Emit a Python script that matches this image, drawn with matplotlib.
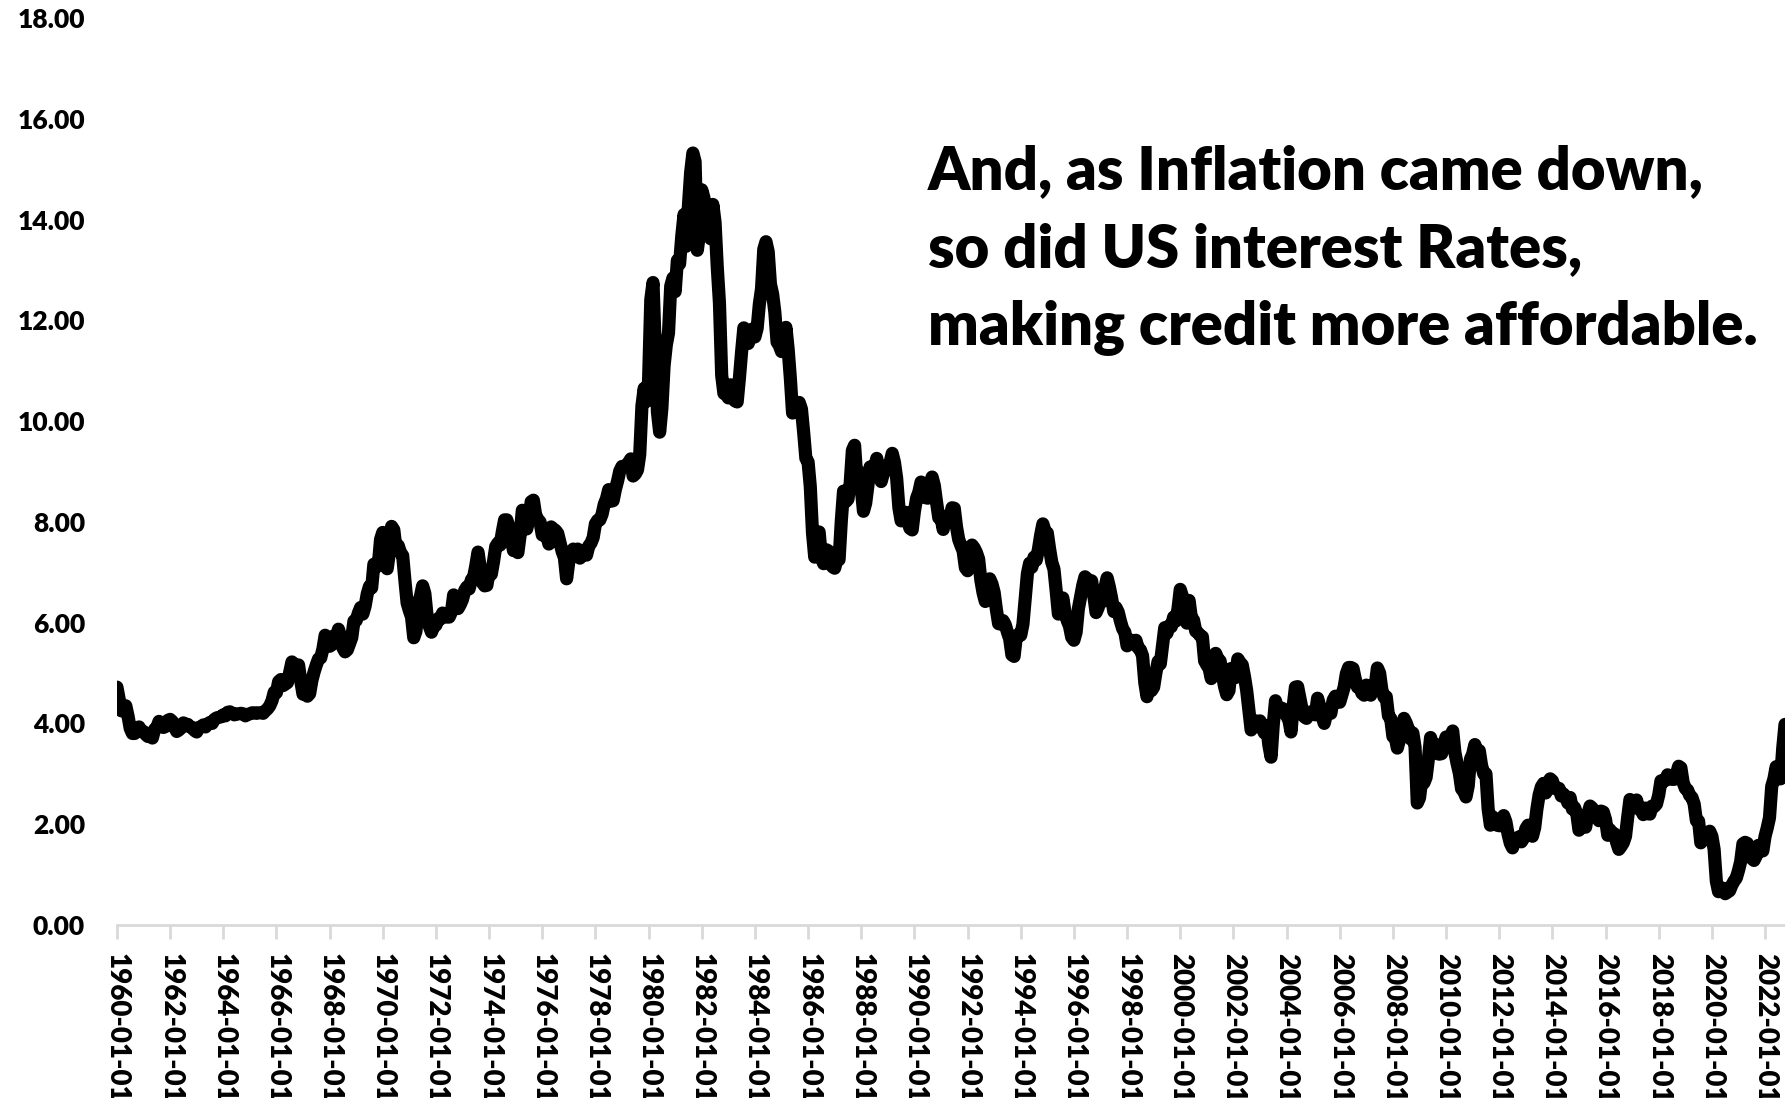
#!/usr/bin/env python3
"""
US 10-year Treasury yield, monthly averages 1960-01 .. 2022-10
"""

import matplotlib.pyplot as plt
import numpy as np
import pandas as pd

# Monthly 10y yields (%), one row per year
yields_1960s = [
    4.72, 4.49, 4.25, 4.28, 4.35, 4.15, 3.90, 3.80, 3.80, 3.89, 3.93, 3.84,
    3.84, 3.78, 3.74, 3.78, 3.71, 3.88, 3.92, 4.04, 3.98, 3.92, 3.94, 4.06,
    4.08, 4.04, 3.93, 3.84, 3.87, 3.91, 4.01, 3.98, 3.98, 3.93, 3.92, 3.86,
    3.83, 3.92, 3.93, 3.97, 3.93, 3.99, 4.02, 4.00, 4.08, 4.11, 4.12, 4.13,
    4.17, 4.15, 4.22, 4.23, 4.20, 4.17, 4.19, 4.19, 4.20, 4.19, 4.15, 4.18,
    4.19, 4.21, 4.21, 4.20, 4.21, 4.21, 4.20, 4.25, 4.29, 4.35, 4.45, 4.62,
    4.61, 4.83, 4.87, 4.75, 4.78, 4.81, 5.02, 5.22, 5.18, 5.01, 5.16, 4.84,
    4.58, 4.63, 4.54, 4.59, 4.85, 5.02, 5.16, 5.28, 5.30, 5.48, 5.75, 5.70,
    5.53, 5.56, 5.74, 5.64, 5.87, 5.72, 5.50, 5.42, 5.46, 5.58, 5.70, 6.03,
    6.04, 6.19, 6.30, 6.17, 6.32, 6.57, 6.72, 6.69, 7.16, 7.10, 7.14, 7.65,
]
yields_1970s = [
    7.79, 7.24, 7.07, 7.39, 7.91, 7.84, 7.46, 7.53, 7.39, 7.33, 6.84, 6.39,
    6.24, 6.11, 5.70, 5.83, 6.39, 6.52, 6.73, 6.58, 6.14, 5.93, 5.81, 5.93,
    5.95, 6.08, 6.07, 6.19, 6.13, 6.11, 6.11, 6.21, 6.55, 6.48, 6.28, 6.36,
    6.46, 6.64, 6.71, 6.67, 6.85, 6.90, 7.13, 7.40, 7.09, 6.79, 6.73, 6.74,
    6.99, 6.96, 7.21, 7.51, 7.58, 7.54, 7.81, 8.04, 8.04, 7.90, 7.68, 7.43,
    7.50, 7.39, 7.73, 8.23, 8.06, 7.86, 8.06, 8.40, 8.43, 8.14, 8.05, 8.00,
    7.74, 7.79, 7.73, 7.56, 7.90, 7.86, 7.83, 7.77, 7.59, 7.41, 7.29, 6.87,
    7.21, 7.39, 7.46, 7.37, 7.46, 7.28, 7.33, 7.40, 7.34, 7.52, 7.58, 7.69,
    7.96, 8.03, 8.04, 8.15, 8.35, 8.46, 8.64, 8.41, 8.42, 8.64, 8.81, 9.01,
    9.10, 9.10, 9.12, 9.18, 9.25, 8.91, 8.95, 9.03, 9.33, 10.30, 10.65, 10.39,
]
yields_1980s = [
    10.80, 12.41, 12.75, 11.47, 10.18, 9.78, 10.25, 11.10, 11.51, 11.75, 12.68, 12.84,
    12.57, 13.19, 13.12, 13.68, 14.10, 13.47, 14.28, 14.94, 15.32, 15.15, 13.39, 13.72,
    14.59, 14.43, 13.86, 13.87, 13.62, 14.30, 13.95, 13.06, 12.34, 10.91, 10.55, 10.54,
    10.46, 10.72, 10.51, 10.40, 10.38, 10.85, 11.38, 11.85, 11.65, 11.54, 11.69, 11.83,
    11.67, 11.84, 12.32, 12.63, 13.41, 13.56, 13.36, 12.72, 12.52, 12.16, 11.57, 11.50,
    11.38, 11.51, 11.86, 11.43, 10.85, 10.16, 10.31, 10.33, 10.37, 10.24, 9.78, 9.26,
    9.19, 8.70, 7.78, 7.30, 7.71, 7.80, 7.30, 7.17, 7.45, 7.43, 7.25, 7.11,
    7.08, 7.25, 7.25, 8.02, 8.61, 8.40, 8.45, 8.76, 9.42, 9.52, 8.86, 8.99,
    8.67, 8.21, 8.37, 8.72, 9.09, 8.92, 9.06, 9.26, 8.98, 8.80, 8.96, 9.11,
    9.09, 9.17, 9.36, 9.18, 8.86, 8.28, 8.02, 8.11, 8.19, 8.01, 7.87, 7.84,
]
yields_1990s = [
    8.21, 8.47, 8.59, 8.79, 8.76, 8.48, 8.47, 8.75, 8.89, 8.72, 8.39, 8.08,
    8.09, 7.85, 8.11, 8.04, 8.07, 8.28, 8.27, 7.90, 7.65, 7.53, 7.42, 7.09,
    7.03, 7.34, 7.54, 7.48, 7.39, 7.26, 6.84, 6.59, 6.42, 6.59, 6.87, 6.77,
    6.60, 6.26, 5.98, 5.97, 6.04, 5.96, 5.81, 5.68, 5.36, 5.33, 5.72, 5.77,
    5.75, 5.97, 6.48, 6.97, 7.18, 7.10, 7.30, 7.24, 7.46, 7.74, 7.96, 7.81,
    7.78, 7.47, 7.20, 7.06, 6.63, 6.17, 6.28, 6.49, 6.20, 6.04, 5.93, 5.71,
    5.65, 5.81, 6.27, 6.51, 6.74, 6.91, 6.87, 6.64, 6.83, 6.53, 6.20, 6.30,
    6.58, 6.42, 6.69, 6.89, 6.71, 6.49, 6.22, 6.30, 6.21, 6.03, 5.88, 5.81,
    5.54, 5.57, 5.65, 5.64, 5.65, 5.50, 5.46, 5.34, 4.81, 4.53, 4.83, 4.65,
    4.72, 5.00, 5.23, 5.18, 5.54, 5.90, 5.79, 5.94, 5.92, 6.11, 6.03, 6.28,
]
yields_2000s = [
    6.66, 6.52, 6.26, 5.99, 6.44, 6.10, 6.05, 5.83, 5.80, 5.74, 5.72, 5.24,
    5.16, 5.10, 4.89, 5.14, 5.39, 5.28, 5.24, 4.97, 4.73, 4.57, 4.65, 5.09,
    5.04, 4.91, 5.28, 5.21, 5.16, 4.93, 4.65, 4.26, 3.87, 3.94, 4.05, 4.03,
    4.05, 3.90, 3.81, 3.96, 3.57, 3.33, 3.98, 4.45, 4.27, 4.29, 4.30, 4.27,
    4.15, 4.08, 3.83, 4.35, 4.72, 4.73, 4.50, 4.28, 4.13, 4.10, 4.19, 4.23,
    4.22, 4.17, 4.50, 4.34, 4.14, 4.00, 4.18, 4.26, 4.20, 4.46, 4.54, 4.47,
    4.42, 4.57, 4.72, 4.99, 5.11, 5.11, 5.09, 4.88, 4.72, 4.73, 4.60, 4.56,
    4.76, 4.72, 4.56, 4.69, 4.75, 5.10, 5.00, 4.67, 4.52, 4.53, 4.15, 4.10,
    3.74, 3.74, 3.51, 3.68, 3.88, 4.10, 4.01, 3.89, 3.69, 3.81, 3.53, 2.42,
    2.52, 2.87, 2.82, 2.93, 3.29, 3.72, 3.56, 3.59, 3.40, 3.39, 3.40, 3.59,
]
yields_2010s = [
    3.73, 3.69, 3.73, 3.85, 3.42, 3.20, 3.01, 2.70, 2.65, 2.54, 2.76, 3.29,
    3.39, 3.58, 3.41, 3.46, 3.17, 3.00, 3.00, 2.30, 1.98, 2.15, 2.01, 1.98,
    1.97, 1.97, 2.17, 2.05, 1.80, 1.62, 1.53, 1.68, 1.72, 1.75, 1.65, 1.72,
    1.91, 1.98, 1.96, 1.76, 1.93, 2.30, 2.58, 2.74, 2.81, 2.62, 2.72, 2.90,
    2.86, 2.71, 2.72, 2.71, 2.56, 2.60, 2.54, 2.42, 2.53, 2.30, 2.33, 2.21,
    1.88, 1.98, 2.04, 1.94, 2.20, 2.36, 2.32, 2.17, 2.17, 2.07, 2.26, 2.24,
    2.09, 1.78, 1.89, 1.81, 1.81, 1.64, 1.50, 1.56, 1.63, 1.76, 2.14, 2.49,
    2.43, 2.42, 2.48, 2.30, 2.30, 2.19, 2.32, 2.21, 2.20, 2.36, 2.35, 2.40,
    2.58, 2.86, 2.84, 2.87, 2.98, 2.91, 2.89, 2.89, 3.00, 3.15, 3.12, 2.83,
    2.71, 2.68, 2.57, 2.53, 2.40, 2.07, 2.06, 1.63, 1.70, 1.71, 1.81, 1.86,
]
yields_2020s = [
    1.76, 1.50, 0.87, 0.66, 0.67, 0.73, 0.62, 0.65, 0.68, 0.79, 0.87, 0.93,
    1.08, 1.26, 1.61, 1.64, 1.62, 1.52, 1.32, 1.28, 1.37, 1.58, 1.56, 1.47,
    1.76, 1.93, 2.13, 2.75, 2.90, 3.14, 2.90, 2.90, 3.52, 3.98,
]

start_date = '1960-01-01'
label_every = 24  # months between category labels

note_lines = [
    'And, as Inflation came down,',
    'so did US interest Rates,',
    'making credit more affordable.',
]

plt.rcParams['font.family'] = ['Lato', 'DejaVu Sans']
plt.rcParams['font.weight'] = 'heavy'


def main():
    values = np.array(yields_1960s + yields_1970s + yields_1980s + yields_1990s
                      + yields_2000s + yields_2010s + yields_2020s)
    dates = pd.date_range(start_date, periods=len(values), freq='MS')
    x = np.arange(len(values))

    fig = plt.figure(figsize=(17.85, 10.98), dpi=100)
    ax = fig.add_axes([0.0655, 0.1576, 0.9345, 0.826])

    ax.plot(x, values, color='black', lw=9.5, solid_joinstyle='round',
            solid_capstyle='round')

    ax.set_xlim(0, len(values) - 1)
    ax.set_ylim(0, 18)

    # y axis: labels only
    ax.set_yticks(np.arange(0, 18.01, 2))
    ax.set_yticklabels([f'{v:.2f}' for v in np.arange(0, 18.01, 2)])
    ax.tick_params(axis='y', length=0, pad=23, labelsize=19)

    # x axis: category labels every two years
    ticks = x[::label_every]
    ax.set_xticks(ticks)
    ax.set_xticklabels([dates[i].strftime('%Y-%m-%d') for i in ticks],
                       rotation=-90, va='top', ha='center')
    ax.tick_params(axis='x', length=10, width=2, color='#d9d9d9',
                   pad=10, labelsize=20)

    for side in ('top', 'right', 'left'):
        ax.spines[side].set_visible(False)
    ax.spines['bottom'].set_color('#d9d9d9')
    ax.spines['bottom'].set_linewidth(2)

    for line, yb in zip(note_lines, (0.8279, 0.7568, 0.6867)):
        fig.text(0.52, yb, line, fontsize=43, fontweight='heavy',
                 va='baseline', ha='left')

    fig.savefig('out.png', dpi=100, facecolor='white')
    plt.close(fig)


if __name__ == '__main__':
    main()
